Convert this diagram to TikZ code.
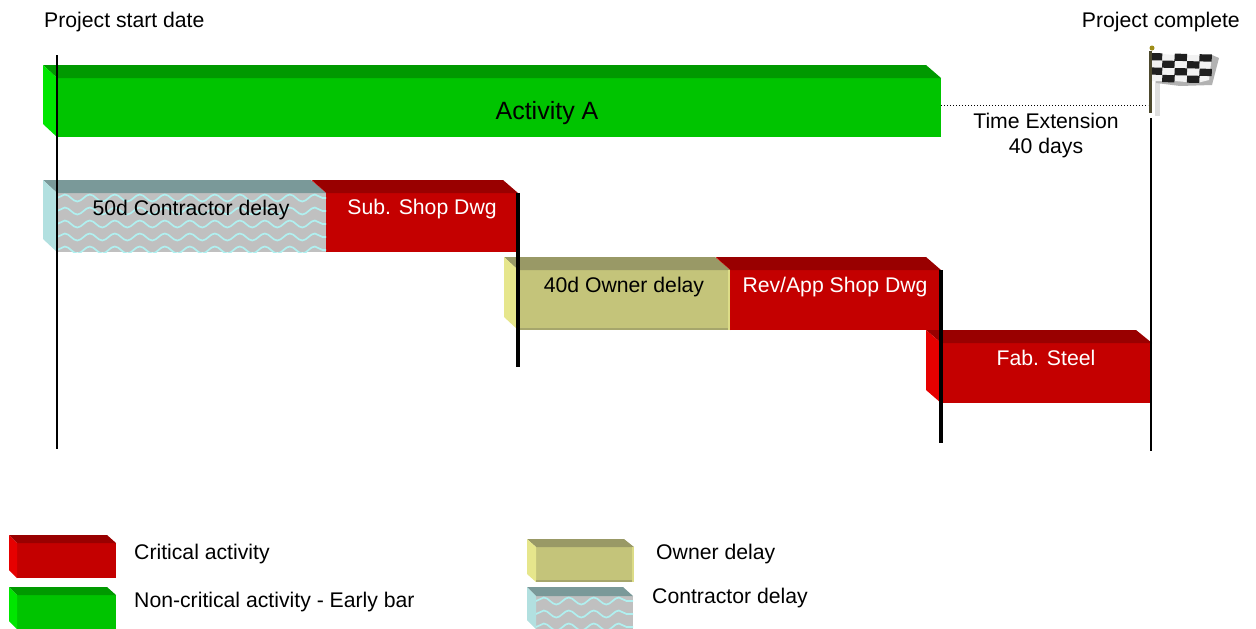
\documentclass[tikz,border=0pt]{standalone}
\usepackage{fontspec}
\setmainfont{Liberation Sans}
\usetikzlibrary{decorations.pathmorphing}
\definecolor{critFront}{HTML}{C40000}
\definecolor{critTop}{HTML}{990000}
\definecolor{critSide}{HTML}{E60000}
\definecolor{earlyFront}{HTML}{00C400}
\definecolor{earlyTop}{HTML}{009900}
\definecolor{earlySide}{HTML}{00E600}
\definecolor{ownFront}{HTML}{C4C47A}
\definecolor{ownTop}{HTML}{999966}
\definecolor{ownSide}{HTML}{E6E68C}
\definecolor{conFront}{HTML}{C0C0C0}
\definecolor{conTop}{HTML}{7A9999}
\definecolor{conSide}{HTML}{B2E0E0}
\definecolor{conWave}{HTML}{B0F0F0}
\begin{document}
\begin{tikzpicture}[x=1pt,y=-1pt,
	barfront/.style={anchor=north west, inner sep=0pt, outer sep=0pt},
	txt/.style={inner sep=0pt, font=\fontsize{21.2}{25}\selectfont, align=center},
	milestone/.style={line width=2pt, black},
	barend/.style={line width=3.5pt, black}]
	\useasboundingbox (0,0) rectangle (1256,629);

	% bars: name/left/top/width/height/depth x/depth y/front/top/side
	\foreach \nm/\xl/\yt/\bw/\bh/\dx/\dy/\cf/\ct/\cs in {
		actA/57/78/884/59/14/13/earlyFront/earlyTop/earlySide,
		subDwg/326/193/192/59/14/13/critFront/critTop/critSide,
		conDelay/57/193/269/59/14/13/conFront/conTop/conSide,
		revDwg/730/270/211/60/14/13/critFront/critTop/critSide,
		ownDelay/518/270/212/60/14/13/ownFront/ownTop/ownSide,
		fabSteel/941/343/211/60/15/13/critFront/critTop/critSide,
		legCrit/17/543/99/35/8/8/critFront/critTop/critSide,
		legEarly/17/595/99/34/8/8/earlyFront/earlyTop/earlySide,
		legOwn/536/547/98/35/9/8/ownFront/ownTop/ownSide,
		legCon/536/596/97/33/9/9/conFront/conTop/conSide}
	{
		\node[barfront, fill=\cf, minimum width=\bw pt, minimum height=\bh pt] (\nm) at (\xl,\yt) {};
		\fill[\ct] (\nm.north west) -- ++(-\dx,-\dy) -- ([xshift=-\dx pt-1pt,yshift=\dy pt]\nm.north east) -- (\nm.north east) -- cycle;
		\fill[\cs] (\nm.north west) -- ++(-\dx,-\dy) -- ([xshift=-\dx pt,yshift=\dy pt]\nm.south west) -- (\nm.south west) -- cycle;
	}

	% wavy hatch on the contractor delay
	\foreach \nm in {conDelay,legCon} {
		\begin{scope}
			\clip (\nm.north west) rectangle (\nm.south east);
			\foreach \yy in {5,18,31,44,57}
				\draw[conWave, line width=1.7pt, decorate, decoration={snake, segment length=25pt, amplitude=3.5pt}]
					([yshift=-\yy pt]\nm.north west) -- ([yshift=-\yy pt]\nm.north east);
		\end{scope}
	}

	% bevel of the owner delay
	\foreach \nm in {ownDelay,legOwn} {
		\fill[ownSide!70!ownFront] ([xshift=-2pt]\nm.north east) rectangle (\nm.south east);
		\fill[ownTop!70!ownFront] ([yshift=2pt]\nm.south west) rectangle ([xshift=-2pt]\nm.south east);
	}

	% flag
	\fill[gray!25] (1155,62) rectangle (1160,116);
	\fill[gray!60] (1156,83) -- (1180,86) -- (1212,85) -- (1219,58) -- (1212,55) -- (1208,80) -- (1156,79) -- cycle;
	\fill[white!90!gray] (1150,53) -- (1175,55) -- (1212,55) -- (1209,80) -- (1197,83) -- (1175,81) -- (1150,81) -- cycle;
	\foreach \cc/\rr in {0/0,2/0,4/0,1/1,3/1,0/2,2/2,4/2,1/3,3/3}
		\fill[black!88] ({1150+12.4*\cc},{53+7.2*\rr+0.3*\cc})
			-- ++(12.4,0.3) -- ++(-0.4,7.2) -- ++(-12.4,-0.3) -- cycle;
	\draw[line width=3pt, black!60!olive] (1150,51) -- (1150,113);
	\fill[olive!70!brown] (1152,48) circle (2.5pt);

	% lines
	\coordinate (startTop) at (57,55);
	\coordinate (startBot) at (57,449);
	\coordinate (subTop) at (518,193);
	\coordinate (subBot) at (518,367);
	\coordinate (revTop) at (941,270);
	\coordinate (revBot) at (941,443);
	\coordinate (endTop) at (1151,118);
	\coordinate (endBot) at (1151,451);
	\coordinate (flagPole) at (1148,105);
	\draw[milestone] (startTop) -- (startBot);
	\draw[barend] (subTop) -- (subBot);
	\draw[barend] (revTop) -- (revBot);
	\draw[milestone] (endTop) -- (endBot);
	\draw[line width=1pt, dotted] (actA.east |- flagPole) -- (flagPole);

	% bar labels
	\node[txt, font=\fontsize{25}{25}\selectfont] (lblA) at (547,113) {Activity A};
	\node[txt] (lblCon) at (191,210) {50d Contractor delay};
	\node[txt, white] (lblSub) at (422,209) {Sub. Shop Dwg};
	\node[txt] (lblOwn) at (624,287) {40d Owner delay};
	\node[txt, white] (lblRev) at (835,287) {Rev/App Shop Dwg};
	\node[txt, white] (lblFab) at (1046,358) {Fab. Steel};

	% other labels
	\node[txt, anchor=west] (lblStart) at (44,22) {Project start date};
	\node[txt, anchor=east] (lblEnd) at (1240,22) {Project complete};
	\node[txt] (lblExt) at (1046,136) {Time Extension\\40 days};
	\node[txt, anchor=west] (keyCrit) at (134,554) {Critical activity};
	\node[txt, anchor=west] (keyEarly) at (134,602) {Non-critical activity - Early bar};
	\node[txt, anchor=west] (keyOwn) at (656,554) {Owner delay};
	\node[txt, anchor=west] (keyCon) at (652,598) {Contractor delay};
\end{tikzpicture}
\end{document}
